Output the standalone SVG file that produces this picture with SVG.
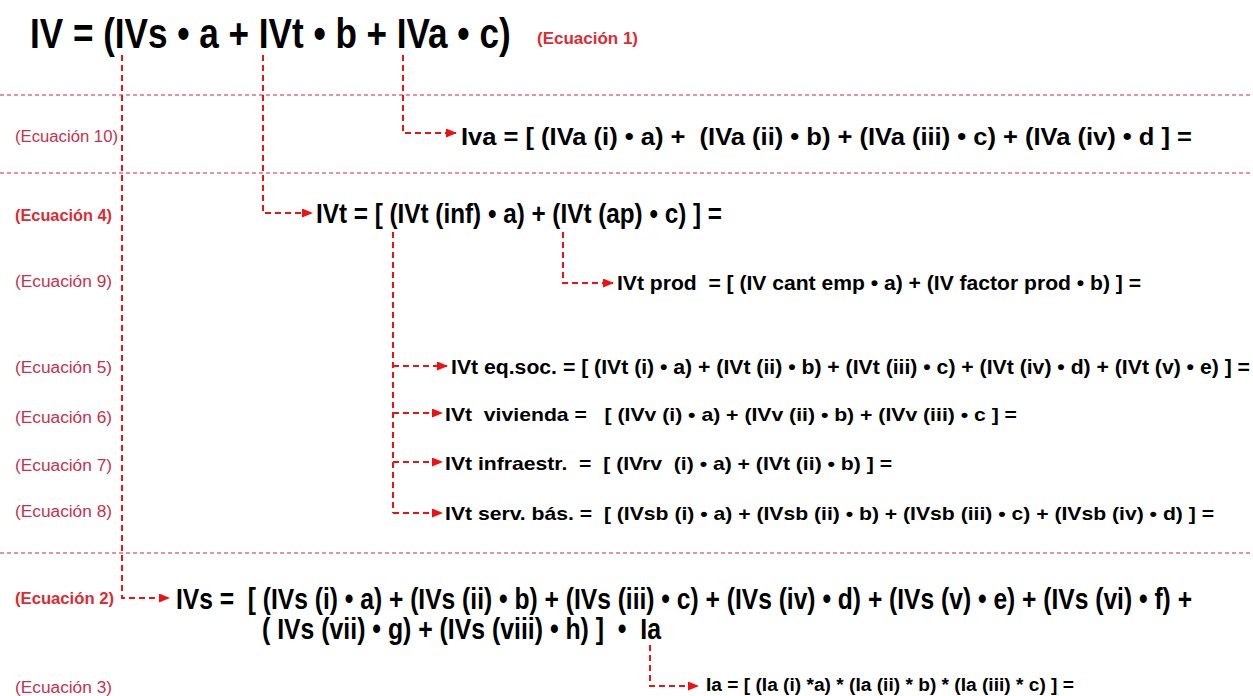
<svg xmlns="http://www.w3.org/2000/svg" width="1253" height="696" viewBox="0 0 1253 696">
<defs>
<marker id="ah" markerWidth="11" markerHeight="9" refX="10" refY="4.5" orient="auto" markerUnits="userSpaceOnUse">
<path d="M0,0 L11,4.5 L0,9 Z" fill="#f01010"/>
</marker>
<style>
.eq{font-family:"Liberation Sans",Arial,sans-serif;font-weight:bold;fill:#000;white-space:pre}
.lb{font-family:"Liberation Sans",Arial,sans-serif;font-size:16px;fill:#c8304c;white-space:pre}
.lbb{font-family:"Liberation Sans",Arial,sans-serif;font-size:16px;font-weight:bold;fill:#e02a30;white-space:pre}
.sep{stroke:#c8284c;stroke-width:1.2;stroke-dasharray:4 3;fill:none}
.con{stroke:#f01010;stroke-width:2;stroke-dasharray:6 4;fill:none}
.arr{stroke:#f01010;stroke-width:2;stroke-dasharray:6 4;fill:none;marker-end:url(#ah)}
</style>
</defs>
<rect width="1253" height="696" fill="#fff"/>

<g id="separators">
<line class="sep" x1="0" y1="95" x2="1253" y2="95"/>
<line class="sep" x1="0" y1="173" x2="1253" y2="173"/>
<line class="sep" x1="0" y1="553" x2="1253" y2="553"/>
</g>

<g id="connectors">
<path class="arr" d="M122,55 V598 H169"/>
<path class="arr" d="M263,55 V213 H312"/>
<path class="arr" d="M403,55 V133 H456"/>
<path class="con" d="M393,232 V513"/>
<path class="arr" d="M393,366 H447"/>
<path class="arr" d="M393,413 H442"/>
<path class="arr" d="M393,462 H442"/>
<path class="arr" d="M393,513 H442"/>
<path class="arr" d="M563,232 V283 H613"/>
<path class="arr" d="M650,645 V686 H698"/>
</g>

<g id="eq1">
<text class="eq" transform="translate(30,48) scale(0.836,1)" x="0" y="0" font-size="42">IV = (IVs • a + IVt • b + IVa • c)</text>
<text class="lbb" x="537" y="44" font-size="17" textLength="101" lengthAdjust="spacingAndGlyphs">(Ecuación 1)</text>
</g>

<g id="eq10">
<text class="lb" x="15" y="142" textLength="103" lengthAdjust="spacingAndGlyphs">(Ecuación 10)</text>
<text class="eq" x="461" y="145" font-size="23" textLength="731" lengthAdjust="spacingAndGlyphs">Iva = [ (IVa (i) • a) +  (IVa (ii) • b) + (IVa (iii) • c) + (IVa (iv) • d ] =</text>
</g>

<g id="eq4">
<text class="lbb" x="15" y="221" textLength="97" lengthAdjust="spacingAndGlyphs">(Ecuación 4)</text>
<text class="eq" x="316" y="223" font-size="27" textLength="406" lengthAdjust="spacingAndGlyphs">IVt = [ (IVt (inf) • a) + (IVt (ap) • c) ] =</text>
</g>

<g id="eq9">
<text class="lb" x="15" y="287" textLength="97" lengthAdjust="spacingAndGlyphs">(Ecuación 9)</text>
<text class="eq" x="617" y="290" font-size="20" textLength="524" lengthAdjust="spacingAndGlyphs">IVt prod  = [ (IV cant emp • a) + (IV factor prod • b) ] =</text>
</g>

<g id="eq5">
<text class="lb" x="15" y="373" textLength="97" lengthAdjust="spacingAndGlyphs">(Ecuación 5)</text>
<text class="eq" x="451" y="374" font-size="20" textLength="799" lengthAdjust="spacingAndGlyphs">IVt eq.soc. = [ (IVt (i) • a) + (IVt (ii) • b) + (IVt (iii) • c) + (IVt (iv) • d) + (IVt (v) • e) ] =</text>
</g>

<g id="eq6">
<text class="lb" x="15" y="423" textLength="97" lengthAdjust="spacingAndGlyphs">(Ecuación 6)</text>
<text class="eq" x="445" y="421" font-size="19" textLength="572" lengthAdjust="spacingAndGlyphs">IVt  vivienda =   [ (IVv (i) • a) + (IVv (ii) • b) + (IVv (iii) • c ] =</text>
</g>

<g id="eq7">
<text class="lb" x="15" y="471" textLength="97" lengthAdjust="spacingAndGlyphs">(Ecuación 7)</text>
<text class="eq" x="445" y="470" font-size="19" textLength="447" lengthAdjust="spacingAndGlyphs">IVt infraestr.  =  [ (IVrv  (i) • a) + (IVt (ii) • b) ] =</text>
</g>

<g id="eq8">
<text class="lb" x="15" y="517" textLength="97" lengthAdjust="spacingAndGlyphs">(Ecuación 8)</text>
<text class="eq" x="445" y="520" font-size="19" textLength="769" lengthAdjust="spacingAndGlyphs">IVt serv. bás. =  [ (IVsb (i) • a) + (IVsb (ii) • b) + (IVsb (iii) • c) + (IVsb (iv) • d) ] =</text>
</g>

<g id="eq2">
<text class="lbb" x="15" y="604" textLength="99" lengthAdjust="spacingAndGlyphs">(Ecuación 2)</text>
<text class="eq" transform="translate(176,609) scale(0.849,1)" x="0" y="0" font-size="29">IVs =  [ (IVs (i) • a) + (IVs (ii) • b) + (IVs (iii) • c) + (IVs (iv) • d) + (IVs (v) • e) + (IVs (vi) • f) +</text>
<text class="eq" x="262" y="639" font-size="29" textLength="399" lengthAdjust="spacingAndGlyphs">( IVs (vii) • g) + (IVs (viii) • h) ]  •  Ia</text>
</g>

<g id="eq3">
<text class="lb" x="15" y="693" textLength="97" lengthAdjust="spacingAndGlyphs">(Ecuación 3)</text>
<text class="eq" x="706" y="691" font-size="18" textLength="368" lengthAdjust="spacingAndGlyphs">Ia = [ (Ia (i) *a) * (Ia (ii) * b) * (Ia (iii) * c) ] =</text>
</g>
</svg>
